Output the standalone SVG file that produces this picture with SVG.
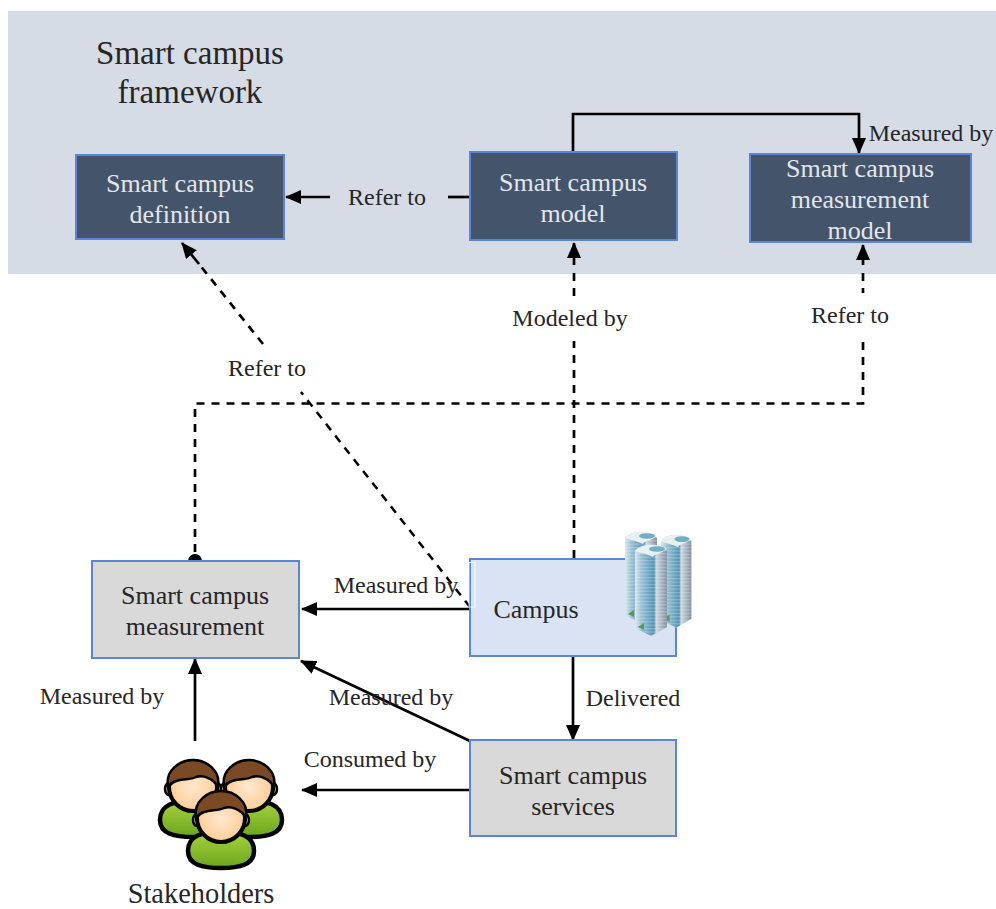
<svg xmlns="http://www.w3.org/2000/svg" width="996" height="909" viewBox="0 0 996 909">
<style>
text{font-family:"Liberation Serif","Times New Roman",serif;fill:#262626;text-anchor:middle}
.lbl{font-size:24px}
.nt{font-size:26px}
.w{fill:#e3e7ec}
.box{stroke:#5b86d6;stroke-width:2}
.dark{fill:#44546a}
.gray{fill:#d9d9d9}
.c{fill:none;stroke:#000;stroke-width:2.7}
.d{stroke-dasharray:8 7}
</style>
<defs>
<marker id="a" markerUnits="userSpaceOnUse" markerWidth="16" markerHeight="14" refX="15" refY="7" orient="auto"><path d="M0 0L16 7L0 14Z" fill="#000"/></marker>
<linearGradient id="tw" x1="0" x2="1" y1="0" y2="0"><stop offset="0" stop-color="#dbe7ec"/><stop offset=".18" stop-color="#9cc2d4"/><stop offset=".6" stop-color="#4f92b5"/><stop offset=".66" stop-color="#cfd9df"/><stop offset="1" stop-color="#7f8ea0"/></linearGradient>
<pattern id="win" width="4" height="3.4" patternUnits="userSpaceOnUse"><rect width="4" height="1.2" fill="#fff" opacity=".25"/></pattern>
<radialGradient id="sk" cx=".5" cy=".5" r=".6"><stop offset="0" stop-color="#ffe8cf"/><stop offset=".7" stop-color="#ffd2a0"/><stop offset="1" stop-color="#f5a866"/></radialGradient>
<linearGradient id="sh" x1="0" x2="0" y1="0" y2="1"><stop offset="0" stop-color="#a8d23c"/><stop offset="1" stop-color="#6aa51e"/></linearGradient>
<g id="person">
<path d="M-33 33C-33 17-18 14 0 14S33 17 33 33C33 47 18 50 0 50S-33 47-33 33Z" fill="url(#sh)" stroke="#000" stroke-width="4.5"/>
<path d="M-11 16L-6 25L0 19L6 25L11 16L0 13Z" fill="#f2f6ee"/>
<ellipse cx="-24" cy="2" rx="4" ry="6" fill="#f8bd84" stroke="#000" stroke-width="2.5"/>
<ellipse cx="24" cy="2" rx="4" ry="6" fill="#f8bd84" stroke="#000" stroke-width="2.5"/>
<ellipse cx="0" cy="0" rx="24" ry="24" fill="url(#sk)" stroke="#000" stroke-width="4"/>
<path d="M-25 0C-28-17-13-27 0-27S28-17 25 0C20-9 10-12 3-10C-5-6-18-10-25 0Z" fill="#7b4a25" stroke="#000" stroke-width="2.5"/>
</g>
<g id="tower">
<path d="M0 8C6 0 24 0 32 8L32 84L16 93L0 85Z" fill="url(#tw)"/>
<path d="M0 8C6 0 24 0 32 8L32 84L16 93L0 85Z" fill="url(#win)"/>
<path d="M0 8C6 0 22 0 32 6C26 11 20 10 18 14C10 10 4 10 0 8Z" fill="#e8f0f2"/>
<ellipse cx="22" cy="6" rx="8" ry="2.8" fill="#6fb0c6"/>
<path d="M3 84L9 80V87Z" fill="#4c9c5a"/>
</g>
</defs>
<rect x="8" y="11" width="988" height="263" fill="#d6dce5"/>
<g id="title"><text x="190" y="64" font-size="33">Smart campus</text><text x="190" y="103" font-size="33">framework</text></g>

<g id="connectors">
<path class="c" d="M330 197H286" marker-end="url(#a)"/>
<path class="c" d="M470 197H448"/>
<path class="c" d="M573 152V114H859V153" marker-end="url(#a)"/>
<path class="c" d="M574 265V243" marker-end="url(#a)"/>
<path class="c d" d="M574 273V296"/>
<path class="c d" d="M574 558V341"/>
<path class="c" d="M863 265V245" marker-end="url(#a)"/>
<path class="c d" d="M863 273V293"/>
<path class="c d" d="M195 552V403.500H863V338"/>
<path class="c d" d="M263 344L199 264"/>
<path class="c" d="M199 264L182 243" marker-end="url(#a)"/>
<path class="c d" style="stroke-width:2.5" d="M470 607L301 392"/>
<path class="c" d="M470 609H302" marker-end="url(#a)"/>
<path class="c" d="M470 741L301 661" marker-end="url(#a)"/>
<path class="c" d="M195 741V659" marker-end="url(#a)"/>
<path class="c" d="M573 656V740" marker-end="url(#a)"/>
<path class="c" d="M470 790H302" marker-end="url(#a)"/>
<path d="M188 561A7 7 0 0 1 202 561Z" fill="#000"/>
</g>

<g id="n-definition"><rect class="box dark" x="76" y="155" width="208" height="84"/><text class="nt w" x="180" y="192">Smart campus</text><text class="nt w" x="180" y="223">definition</text></g>
<g id="n-model"><rect class="box dark" x="470" y="152" width="207" height="88"/><text class="nt w" x="573" y="191">Smart campus</text><text class="nt w" x="573" y="222">model</text></g>
<g id="n-mmodel"><rect class="box dark" x="750" y="154" width="221" height="88"/><text class="nt w" x="860" y="177">Smart campus</text><text class="nt w" x="860" y="208">measurement</text><text class="nt w" x="860" y="239">model</text></g>
<g id="n-measurement"><rect class="box gray" x="92" y="561" width="207" height="97"/><text class="nt" x="195" y="604">Smart campus</text><text class="nt" x="195" y="635">measurement</text></g>
<g id="n-campus"><rect class="box" fill="#dae3f3" x="470" y="559" width="206" height="97"/><rect x="469" y="562.500" width="6" height="44.500" fill="none" stroke="#fff" stroke-width="1" opacity=".8"/><text class="nt" x="536" y="618">Campus</text>
<g id="campus-icon"><use href="#tower" transform="translate(625 530)"/><use href="#tower" transform="translate(661 533) scale(.95 1.02)"/><use href="#tower" transform="translate(635 543)"/></g></g>
<g id="n-services"><rect class="box gray" x="470" y="740" width="206" height="96"/><text class="nt" x="573" y="784">Smart campus</text><text class="nt" x="573" y="815">services</text></g>
<g id="n-stakeholders"><use href="#person" transform="translate(193 787)"/><use href="#person" transform="translate(249 787)"/><use href="#person" transform="translate(221 818)"/><text x="201" y="903" font-size="28.400">Stakeholders</text></g>

<g id="labels" class="lbl">
<text x="387" y="205">Refer to</text>
<text x="931" y="141">Measured by</text>
<text x="570" y="326">Modeled by</text>
<text x="850" y="323">Refer to</text>
<text x="267" y="376">Refer to</text>
<text x="396" y="593">Measured by</text>
<text x="391" y="705">Measured by</text>
<text x="102" y="704">Measured by</text>
<text x="633" y="706">Delivered</text>
<text x="370" y="767">Consumed by</text>
</g>
</svg>
